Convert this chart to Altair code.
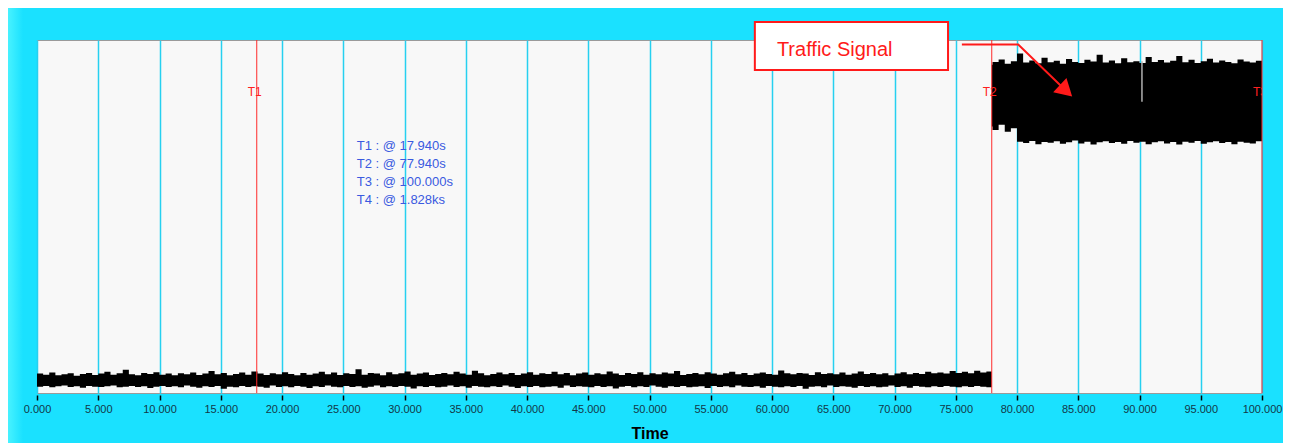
import altair as alt
import pandas as pd

# ---------------- data ----------------
# background noise envelope (before T2), sampled every 0.5 s
noise_hi = [0.55,0.52,0.58,0.50,0.53,0.56,0.49,0.54,0.57,0.51,
            0.55,0.60,0.52,0.56,0.66,0.53,0.50,0.57,0.54,0.59,
            0.52,0.55,0.50,0.56,0.53,0.58,0.51,0.55,0.62,0.53,
            0.57,0.50,0.54,0.58,0.52,0.61,0.55,0.51,0.56,0.53,
            0.59,0.54,0.50,0.57,0.52,0.55,0.60,0.53,0.58,0.51,
            0.56,0.54,0.67,0.52,0.57,0.55,0.50,0.59,0.53,0.56,
            0.61,0.52,0.55,0.58,0.51,0.54,0.57,0.53,0.60,0.55,
            0.52,0.63,0.56,0.50,0.54,0.58,0.53,0.57,0.51,0.55,
            0.59,0.52,0.56,0.54,0.60,0.53,0.57,0.50,0.55,0.58,
            0.52,0.56,0.53,0.61,0.55,0.51,0.57,0.54,0.59,0.52,
            0.56,0.53,0.58,0.55,0.62,0.51,0.54,0.57,0.53,0.59,
            0.55,0.52,0.56,0.60,0.53,0.57,0.51,0.55,0.58,0.54,
            0.52,0.64,0.56,0.53,0.57,0.55,0.51,0.59,0.54,0.56,
            0.53,0.58,0.52,0.55,0.61,0.54,0.57,0.53,0.56,0.50,
            0.55,0.59,0.53,0.57,0.54,0.60,0.56,0.58,0.55,0.62,
            0.57,0.60,0.56,0.63,0.58,0.61,0.59]
noise_lo = [0.18,0.20,0.16,0.19,0.21,0.17,0.19,0.15,0.20,0.18,
            0.17,0.19,0.21,0.16,0.18,0.20,0.17,0.19,0.14,0.18,
            0.20,0.17,0.19,0.16,0.21,0.18,0.15,0.19,0.17,0.20,
            0.12,0.18,0.16,0.20,0.17,0.19,0.18,0.15,0.21,0.17,
            0.19,0.16,0.20,0.18,0.14,0.19,0.17,0.21,0.18,0.16,
            0.20,0.17,0.19,0.15,0.18,0.21,0.16,0.19,0.17,0.20,
            0.18,0.13,0.19,0.17,0.20,0.16,0.18,0.21,0.17,0.19,
            0.15,0.20,0.18,0.16,0.19,0.17,0.21,0.18,0.14,0.19,
            0.17,0.20,0.16,0.18,0.19,0.15,0.21,0.17,0.19,0.18,
            0.16,0.20,0.17,0.19,0.13,0.18,0.20,0.16,0.19,0.17,
            0.21,0.18,0.15,0.19,0.17,0.20,0.16,0.18,0.19,0.14,
            0.20,0.17,0.19,0.16,0.21,0.18,0.17,0.19,0.15,0.20,
            0.18,0.16,0.19,0.17,0.20,0.12,0.18,0.19,0.16,0.21,
            0.17,0.19,0.18,0.15,0.20,0.17,0.19,0.16,0.18,0.21,
            0.17,0.19,0.15,0.20,0.18,0.16,0.19,0.17,0.20,0.18,
            0.16,0.19,0.17,0.20,0.18,0.16,0.19]
noise_t = [i * 0.5 for i in range(156)] + [77.94]

# traffic signal envelope (T2 .. T3)
sig_t = [77.94] + [78 + 0.5 * i for i in range(45)]
sig_hi = [9.30,9.38,9.45,9.33,9.40,9.62,9.36,9.42,9.34,9.50,
          9.37,9.41,9.33,9.46,9.38,9.35,9.44,9.39,9.58,9.36,
          9.42,9.34,9.48,9.37,9.40,9.35,9.52,9.38,9.43,9.36,
          9.41,9.55,9.37,9.44,9.35,9.40,9.47,9.36,9.42,9.38,
          9.34,9.45,9.39,9.36,9.41,9.37]
sig_lo = [7.55,7.45,7.60,7.40,7.50,7.12,7.08,7.14,7.05,7.11,
          7.09,7.13,7.06,7.10,7.15,7.07,7.12,7.04,7.10,7.13,
          7.08,7.11,7.06,7.14,7.09,7.12,7.05,7.10,7.13,7.07,
          7.11,7.04,7.12,7.09,7.14,7.06,7.10,7.13,7.08,7.11,
          7.05,7.12,7.09,7.07,7.13,7.10]

gap_t = [90.2]
gap_top = [9.40]
gap_bottom = [8.25]

cursor_t = [17.94, 77.94, 100.0]
cursor_names = ["T1", "T2", "T3"]
cursor_label_y = [8.53, 8.53, 8.53]

readouts = ["T1 : @ 17.940s", "T2 : @ 77.940s", "T3 : @ 100.000s", "T4 : @ 1.828ks"]
readout_x = [26.1, 26.1, 26.1, 26.1]
readout_y = [7.0, 6.49, 5.98, 5.47]

box_x = [58.6]
box_x2 = [74.37]
box_y = [9.15]
box_y2 = [10.51]
box_label = ["Traffic Signal"]
box_label_x = [60.4]
box_label_y = [9.72]

arrow_x = [75.5, 80.1, 84.0]
arrow_y = [9.87, 9.87, 8.56]
arrow_order = [0, 1, 2]

tick_values = list(range(0, 101, 5))

# ---------------- chart ----------------
FONT = "Liberation Sans"
CYAN = "#1ae1ff"
xs = alt.Scale(domain=[0, 100], nice=False, zero=False)
ys = alt.Scale(domain=[0, 10], nice=False, zero=False)
xax = alt.Axis(values=tick_values, format=".3f", title="Time",
               grid=True, gridColor="#26d0f0", gridWidth=1.5,
               domain=False, ticks=True, tickColor="#000000", tickSize=5, tickWidth=1.5,
               offset=2, labelFontSize=11, labelColor="#123848", labelFont=FONT,
               labelPadding=3, labelFlush=False, labelOverlap=False,
               titleFont=FONT, titleFontSize=16, titleFontWeight="bold",
               titleColor="#000000", titleBaseline="alphabetic", titleY=43)


def X(f):
    return alt.X(f, type="quantitative", scale=xs, axis=xax)


def Y(f):
    return alt.Y(f, type="quantitative", scale=ys, axis=None)


noise_df = pd.DataFrame({"t": noise_t, "lo": noise_lo, "hi": noise_hi})
sig_df = pd.DataFrame({"t": sig_t, "lo": sig_lo, "hi": sig_hi})
gap_df = pd.DataFrame({"t": gap_t, "a": gap_bottom, "b": gap_top})
cur_df = pd.DataFrame({"t": cursor_t, "name": cursor_names, "y": cursor_label_y})
read_df = pd.DataFrame({"x": readout_x, "y": readout_y, "label": readouts})
box_df = pd.DataFrame({"x": box_x, "x2": box_x2, "y": box_y, "y2": box_y2})
boxlab_df = pd.DataFrame({"x": box_label_x, "y": box_label_y, "label": box_label})
arrow_df = pd.DataFrame({"x": arrow_x, "y": arrow_y, "o": arrow_order})
head_df = pd.DataFrame({"x": [arrow_x[-1]], "y": [arrow_y[-1]]})
edge_df = pd.DataFrame({"k": [0]})

# panel edge shading (frame decoration outside the plot area)
left_edge = alt.Chart(edge_df).mark_rect(
    fill=alt.Gradient(gradient="linear", x1=0, x2=1, y1=0, y2=0,
                      stops=[alt.GradientStop(color="#48f2ff", offset=0),
                             alt.GradientStop(color=CYAN, offset=1)])).encode(
    x=alt.value(-29), x2=alt.value(-14), y=alt.value(-32), y2=alt.value(403))

noise = alt.Chart(noise_df).mark_area(interpolate="step-after", color="#000000").encode(
    x=X("t"), y=Y("lo"), y2="hi")
signal = alt.Chart(sig_df).mark_area(interpolate="step-after", color="#000000").encode(
    x=X("t"), y=Y("lo"), y2="hi")
gap = alt.Chart(gap_df).mark_rule(color="#b0b0b0", strokeWidth=1.5).encode(
    x=X("t"), y=Y("a"), y2="b")
cursors = alt.Chart(cur_df).mark_rule(color="#ff2a2a", strokeWidth=1).encode(x=X("t"))
cur_labels = alt.Chart(cur_df).mark_text(color="#ff2020", fontSize=12, font=FONT,
                                         align="center", baseline="middle", dx=-2,
                                         clip=True).encode(
    x=X("t"), y=Y("y"), text="name")
readout = alt.Chart(read_df).mark_text(color="#3a5ae0", fontSize=13, font=FONT,
                                       align="left", baseline="middle").encode(
    x=X("x"), y=Y("y"), text="label")
box = alt.Chart(box_df).mark_rect(fill="#ffffff", stroke="#ff1a1a", strokeWidth=2).encode(
    x=X("x"), x2="x2", y=Y("y"), y2="y2")
box_text = alt.Chart(boxlab_df).mark_text(color="#ff1a1a", fontSize=20, font=FONT,
                                          align="left", baseline="middle").encode(
    x=X("x"), y=Y("y"), text="label")
arrow = alt.Chart(arrow_df).mark_line(color="#ff1a1a", strokeWidth=2).encode(
    x=X("x"), y=Y("y"), order="o")
head = alt.Chart(head_df).mark_point(shape="triangle-right", filled=True, color="#ff1a1a",
                                     opacity=1, size=380, angle=43).encode(
    x=X("x"), y=Y("y"))

chart = alt.layer(left_edge, noise, signal, gap, cursors, cur_labels, readout, box,
                  box_text, arrow, head).properties(
    width=1225, height=353,
    autosize=alt.AutoSizeParams(type="none"),
    padding={"left": 29, "top": 32, "right": 21, "bottom": 50},
    background=CYAN,
).configure_view(fill="#f8f8f8", stroke="#9a9a9a", strokeWidth=1)

chart.save("out.html", embed_options={"renderer": "svg", "actions": False})
